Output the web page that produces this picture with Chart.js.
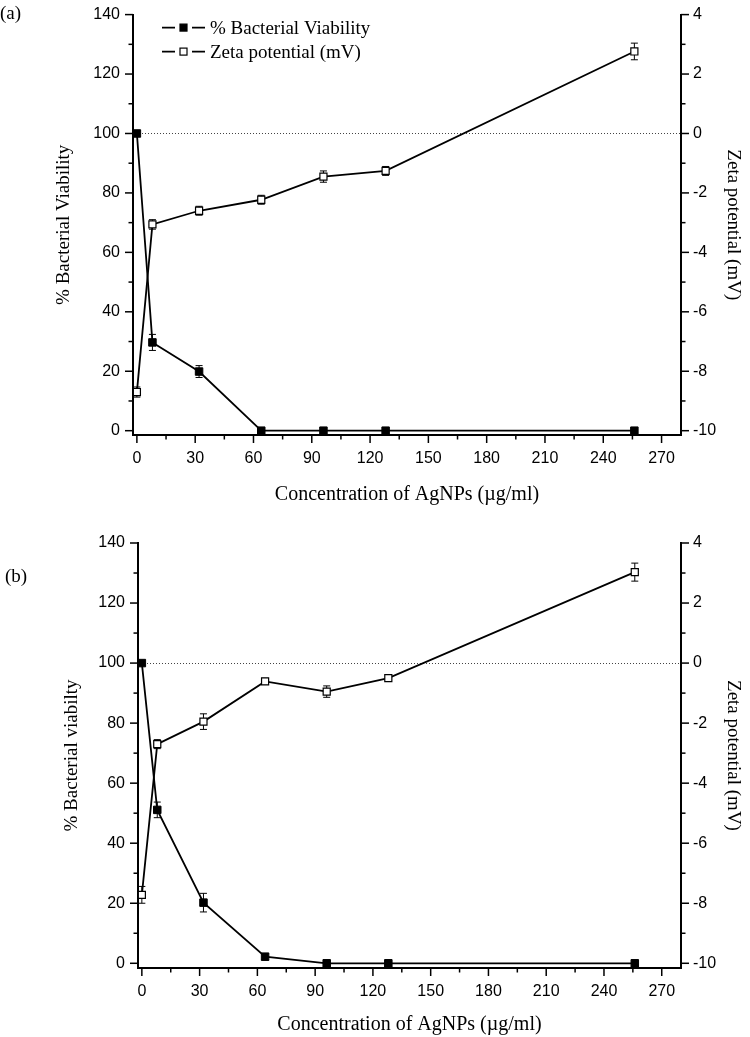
<!DOCTYPE html>
<html>
<head>
<meta charset="utf-8">
<script src="https://cdn.jsdelivr.net/npm/chart.js@4.4.1/dist/chart.umd.min.js"></script>
<style>
  body { margin: 0; background: #fff; width: 750px; height: 1037px; position: relative; overflow: hidden; }
  .panel { position: absolute; left: 0; width: 750px; }
  .panel canvas { display: block; }
  .tag { position: absolute; font: 19px "Liberation Serif", serif; color: #000; }
</style>
</head>
<body>
<div class="panel" style="top:0;height:518px"><canvas id="chartA" width="750" height="518"></canvas></div>
<div class="tag" style="left:0;top:2px">(a)</div>
<div class="panel" style="top:518px;height:519px"><canvas id="chartB" width="750" height="519"></canvas></div>
<div class="tag" style="left:5px;top:565px">(b)</div>

<script>
// concentrations of AgNPs (µg/ml)
var conc = [0, 8, 32, 64, 96, 128, 256];

// panel (a)
var viabA = [100, 29.7, 19.9, 0, 0, 0, 0];
var viabAErr = [0, 2.7, 2, 0, 0, 0, 0];
var zetaA = [-8.7, -3.06, -2.6, -2.23, -1.45, -1.26, 2.76];
var zetaAErr = [0.17, 0.16, 0.15, 0.15, 0.19, 0.15, 0.28];

// panel (b)
var viabB = [100, 51.1, 20.2, 2.2, 0, 0, 0];
var viabBErr = [0, 2.6, 3.1, 1, 0, 0, 0];
var zetaB = [-7.72, -2.7, -1.95, -0.61, -0.95, -0.5, 3.03];
var zetaBErr = [0.28, 0.15, 0.26, 0.1, 0.19, 0.1, 0.3];

// axis ticks
var xMin = -2, xMax = 280, xStep = 15, xLabelStep = 30;
var yMax = 140, yStep = 10, yLabelStep = 20;
var y2Max = 4, y2Step = 1, y2LabelStep = 2;

var majorStep = { x: xLabelStep, y: yLabelStep, y2: y2LabelStep };

function isMajor(v, step) {
  var r = Math.abs(v % step);
  return r < 1e-6 || Math.abs(r - step) < 1e-6;
}

// short / long tick marks
var tickPlugin = {
  id: 'tickMarks',
  afterDraw: function (chart) {
    var ctx = chart.ctx;
    ctx.save();
    ctx.strokeStyle = '#000';
    ctx.lineWidth = 1.5;
    ['x', 'y', 'y2'].forEach(function (id) {
      var s = chart.scales[id];
      s.ticks.forEach(function (t) {
        var len = isMajor(t.value, majorStep[id]) ? 8 : 4.5;
        var p = s.getPixelForValue(t.value);
        ctx.beginPath();
        if (id == 'x') {
          ctx.moveTo(p, s.top); ctx.lineTo(p, s.top + len);
        } else if (id == 'y') {
          ctx.moveTo(s.right, p); ctx.lineTo(s.right - len, p);
        } else {
          ctx.moveTo(s.left, p); ctx.lineTo(s.left + len, p);
        }
        ctx.stroke();
      });
    });
    ctx.restore();
  }
};

// dotted line at zeta = 0
var zeroLine = {
  id: 'zeroLine',
  beforeDatasetsDraw: function (chart) {
    var ctx = chart.ctx, a = chart.chartArea;
    var y = Math.round(chart.scales.y2.getPixelForValue(0)) + 0.5;
    ctx.save();
    ctx.strokeStyle = '#444';
    ctx.lineWidth = 1;
    ctx.setLineDash([1, 2]);
    ctx.beginPath();
    ctx.moveTo(a.left, y);
    ctx.lineTo(a.right, y);
    ctx.stroke();
    ctx.restore();
  }
};

// error bars, drawn under the markers
var errorBars = {
  id: 'errorBars',
  beforeDatasetsDraw: function (chart) {
    var ctx = chart.ctx;
    ctx.save();
    ctx.strokeStyle = '#000';
    ctx.lineWidth = 1;
    chart.data.datasets.forEach(function (ds) {
      var sy = chart.scales[ds.yAxisID], sx = chart.scales.x;
      ds.data.forEach(function (pt, i) {
        var e = ds.err[i];
        if (!e) return;
        var x = sx.getPixelForValue(pt.x);
        var y1 = sy.getPixelForValue(pt.y + e), y2 = sy.getPixelForValue(pt.y - e);
        ctx.beginPath();
        ctx.moveTo(x, y1); ctx.lineTo(x, y2);
        ctx.moveTo(x - 3.5, y1); ctx.lineTo(x + 3.5, y1);
        ctx.moveTo(x - 3.5, y2); ctx.lineTo(x + 3.5, y2);
        ctx.stroke();
      });
    });
    ctx.restore();
  }
};

// legend inside the plot: line - marker - line  text
var ownLegend = {
  id: 'ownLegend',
  afterDraw: function (chart, args, opts) {
    if (!opts.show) return;
    var ctx = chart.ctx, a = chart.chartArea;
    ctx.save();
    chart.data.datasets.forEach(function (ds, i) {
      var x = a.left + 29, y = a.top + 13 + i * 24;
      ctx.strokeStyle = '#000';
      ctx.lineWidth = 1.8;
      ctx.beginPath();
      ctx.moveTo(x, y); ctx.lineTo(x + 13, y);
      ctx.moveTo(x + 30, y); ctx.lineTo(x + 43, y);
      ctx.stroke();
      ctx.fillStyle = ds.pointBackgroundColor;
      ctx.lineWidth = 1.2;
      ctx.fillRect(x + 18, y - 3.5, 7, 7);
      ctx.strokeRect(x + 18, y - 3.5, 7, 7);
      ctx.fillStyle = '#000';
      ctx.font = '19px "Liberation Serif"';
      ctx.textBaseline = 'middle';
      ctx.fillText(ds.label, x + 48, y + 1);
    });
    ctx.restore();
  }
};

var tickFont = { family: 'Liberation Sans', size: 16 };

function makeChart(id, c) {
  return new Chart(document.getElementById(id), {
    type: 'scatter',
    data: {
      datasets: [
        {
          label: '% Bacterial Viability',
          data: conc.map(function (v, i) { return { x: v, y: c.viab[i] }; }),
          err: c.viabErr,
          yAxisID: 'y',
          showLine: true,
          borderColor: '#000',
          borderWidth: 1.8,
          pointStyle: 'rect',
          pointRadius: 5.3,
          pointBackgroundColor: '#000',
          pointBorderColor: '#000',
          pointBorderWidth: 1,
          clip: false
        },
        {
          label: 'Zeta potential (mV)',
          data: conc.map(function (v, i) { return { x: v, y: c.zeta[i] }; }),
          err: c.zetaErr,
          yAxisID: 'y2',
          showLine: true,
          borderColor: '#000',
          borderWidth: 1.8,
          pointStyle: 'rect',
          pointRadius: 5,
          pointBackgroundColor: '#fff',
          pointBorderColor: '#000',
          pointBorderWidth: 1.2,
          clip: false
        }
      ]
    },
    options: {
      responsive: false,
      animation: false,
      layout: { padding: { top: c.top, left: 0, right: 0, bottom: 0 } },
      plugins: {
        legend: { display: false },
        tooltip: { enabled: false },
        ownLegend: { show: c.legend }
      },
      scales: {
        x: {
          type: 'linear',
          position: 'bottom',
          min: xMin,
          max: xMax,
          afterFit: function (s) { s.height = c.xHeight; },
          ticks: {
            stepSize: xStep,
            includeBounds: false,
            autoSkip: false,
            maxRotation: 0,
            padding: 6,
            color: '#000',
            font: tickFont,
            callback: function (v) { return isMajor(v, xLabelStep) ? v : ''; }
          },
          grid: { drawOnChartArea: false, tickLength: 8, tickColor: 'transparent' },
          border: { color: '#000', width: 2 },
          title: {
            display: true,
            text: 'Concentration of AgNPs (µg/ml)',
            color: '#000',
            font: { family: 'Liberation Serif', size: 20 },
            padding: { top: 0, bottom: c.xTitlePad }
          }
        },
        y: {
          position: 'left',
          min: c.yMin,
          max: yMax,
          afterFit: function (s) { s.width = c.left; },
          ticks: {
            stepSize: yStep,
            includeBounds: false,
            autoSkip: false,
            padding: 5,
            color: '#000',
            font: tickFont,
            callback: function (v) { return isMajor(v, yLabelStep) ? v : ''; }
          },
          grid: { drawOnChartArea: false, tickLength: 8, tickColor: 'transparent' },
          border: { color: '#000', width: 2 },
          title: {
            display: true,
            text: c.yTitle,
            color: '#000',
            font: { family: 'Liberation Serif', size: 19 },
            padding: { top: c.yTitlePad, bottom: 0 }
          }
        },
        y2: {
          position: 'right',
          min: (c.yMin - 100) / 10,
          max: y2Max,
          afterFit: function (s) { s.width = 750 - c.right; },
          ticks: {
            stepSize: y2Step,
            includeBounds: false,
            autoSkip: false,
            padding: 4,
            color: '#000',
            font: tickFont,
            callback: function (v) { return isMajor(v, y2LabelStep) ? v : ''; }
          },
          grid: { drawOnChartArea: false, tickLength: 8, tickColor: 'transparent' },
          border: { color: '#000', width: 2 },
          title: {
            display: true,
            text: 'Zeta potential (mV)',
            color: '#000',
            font: { family: 'Liberation Serif', size: 19 },
            padding: { top: 5.5, bottom: 0 }
          }
        }
      }
    },
    plugins: [zeroLine, errorBars, tickPlugin, ownLegend]
  });
}

makeChart('chartA', {
  viab: viabA, viabErr: viabAErr, zeta: zetaA, zetaErr: zetaAErr,
  yTitle: '% Bacterial Viability', legend: true,
  top: 12, left: 133, right: 681, xHeight: 83, yMin: -1.45,
  xTitlePad: 11, yTitlePad: 52.5
});

makeChart('chartB', {
  viab: viabB, viabErr: viabBErr, zeta: zetaB, zetaErr: zetaBErr,
  yTitle: '% Bacterial viabilty', legend: false,
  top: 25, left: 138, right: 681, xHeight: 69, yMin: -1.57,
  xTitlePad: 0, yTitlePad: 60.5
});
</script>
</body>
</html>
